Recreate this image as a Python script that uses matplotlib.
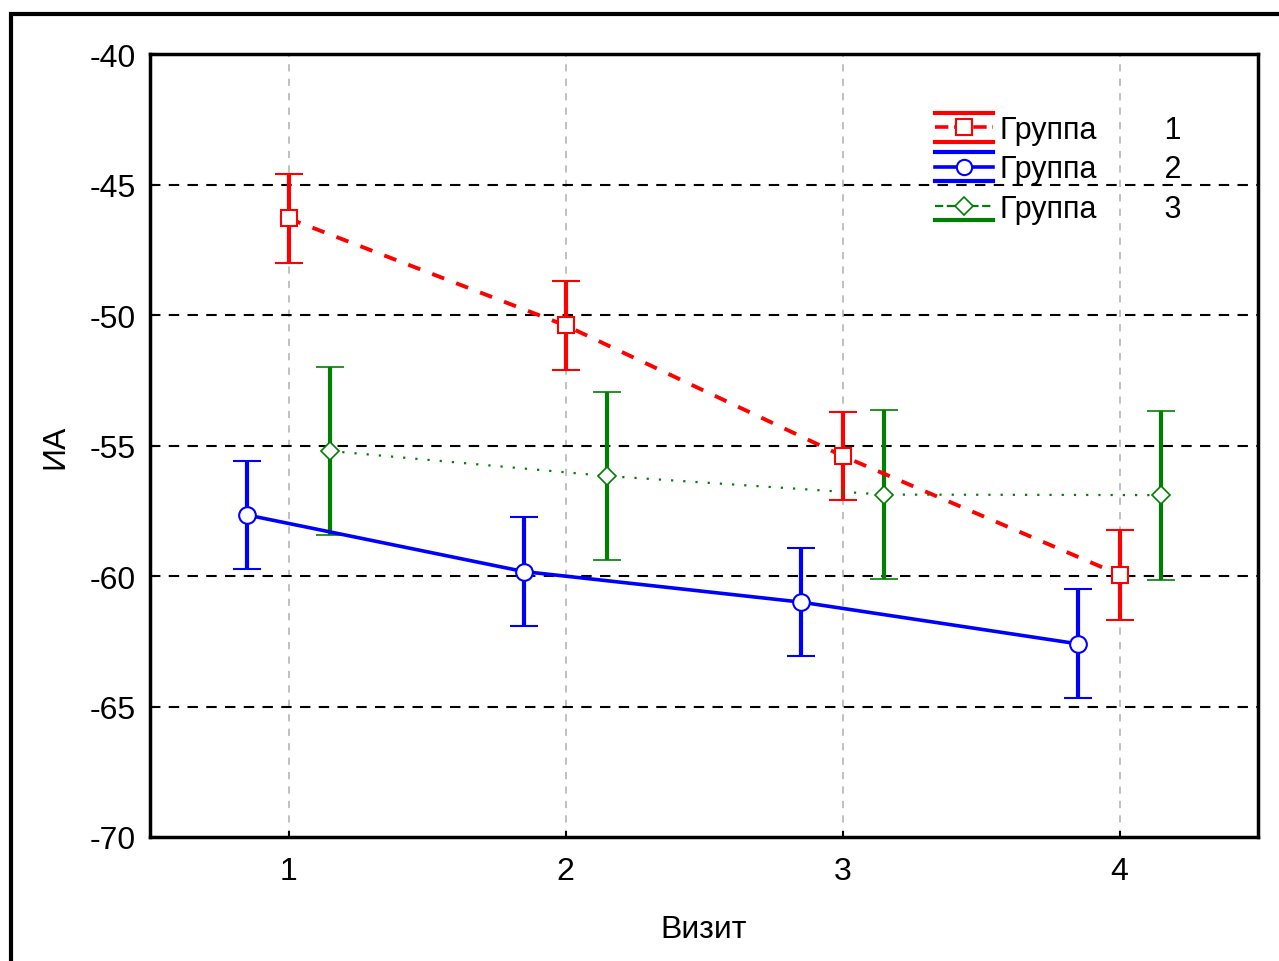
import matplotlib.pyplot as plt
from matplotlib.lines import Line2D
from matplotlib.legend_handler import HandlerBase
from matplotlib.patches import Rectangle

plt.rcParams['font.family'] = ['Liberation Sans', 'DejaVu Sans']
plt.rcParams['axes.unicode_minus'] = False

visits = [1, 2, 3, 4]
x_ticks = [1, 2, 3, 4]
y_ticks = [-70, -65, -60, -55, -50, -45, -40]

g1_mean = [-46.3, -50.4, -55.4, -59.95]
g1_err = [1.7, 1.72, 1.7, 1.72]
g2_mean = [-57.66, -59.83, -61.0, -62.6]
g2_err = [2.07, 2.09, 2.07, 2.09]
g3_mean = [-55.21, -56.17, -56.88, -56.9]
g3_err = [3.22, 3.22, 3.24, 3.24]

labels = ['Группа        1', 'Группа        2', 'Группа        3']


class CapHandler(HandlerBase):
    # legend sample: line + marker with error-bar caps above/below
    def __init__(self, caps):
        super().__init__()
        self.caps = caps

    def create_artists(self, legend, orig, xdescent, ydescent, width, height,
                       fontsize, trans):
        x0, x1 = -xdescent, width - xdescent
        ym = height / 2 - ydescent
        arts = []
        c = orig.get_color()
        main = Line2D([x0, x1], [ym, ym], color=c, ls=orig.get_linestyle(),
                      lw=orig.get_linewidth())
        mk = Line2D([(x0 + x1) / 2], [ym], marker=orig.get_marker(),
                    markersize=orig.get_markersize(), mfc='white', mec=c,
                    mew=orig.get_markeredgewidth(), ls='none')
        arts += [main, mk]
        for dy in self.caps:
            arts.append(Line2D([x0, x1], [ym + dy, ym + dy], color=c, lw=3))
        for a in arts:
            a.set_transform(trans)
        return arts


fig = plt.figure(figsize=(12.79, 9.62), dpi=100)
ax = fig.add_axes([0.1173, 0.1289, 0.8663, 0.8139])

fig.patches.append(Rectangle((11 / 1279, -0.1), 1.2, 1.1 - 15 / 962, fill=False,
                             lw=3, ec='black', transform=fig.transFigure))

x1 = [v for v in visits]
x2 = [v - 0.15 for v in visits]
x3 = [v + 0.15 for v in visits]

ax.errorbar(x1, g1_mean, yerr=g1_err, color='red', ls=(0, (3.3, 3.3)), lw=2.8,
            marker='s', markersize=12, mfc='white', mec='red', mew=1.5,
            elinewidth=3, capsize=10, capthick=3, zorder=5)
ax.errorbar(x2, g2_mean, yerr=g2_err, color='blue', ls='-', lw=2.6,
            marker='o', markersize=12, mfc='white', mec='blue', mew=1.5,
            elinewidth=3, capsize=10, capthick=3, zorder=5)
ax.errorbar(x3, g3_mean, yerr=g3_err, color='green', ls=(0, (1, 4.5)), lw=1.6,
            marker='D', markersize=9, mfc='white', mec='green', mew=1.2,
            elinewidth=3, capsize=10, capthick=3, zorder=5)

ax.set_xlim(0.5, 4.5)
ax.set_ylim(-70, -40)
ax.set_xticks(x_ticks)
ax.set_yticks(y_ticks)
ax.tick_params(direction='in', length=4, width=1.5, labelsize=23)
ax.tick_params(axis='x', pad=14)
ax.tick_params(axis='y', pad=10)
for s in ax.spines.values():
    s.set_linewidth(2.5)

for v in x_ticks:
    ax.axvline(v, color='#bbbbbb', ls=(0, (4, 4)), lw=1.3, zorder=1)
for v in y_ticks[1:-1]:
    ax.axhline(v, color='black', ls=(0, (5, 4)), lw=1.5, zorder=1)

ax.set_xlabel('Визит', fontsize=23, labelpad=20)
ax.set_ylabel('ИА', fontsize=23, labelpad=14)

h1 = Line2D([], [], color='red', ls=(0, (3, 2)), lw=2.6, marker='s',
            markersize=11, mew=1.5)
h2 = Line2D([], [], color='blue', ls='-', lw=2.6, marker='o',
            markersize=11, mew=1.5)
h3 = Line2D([], [], color='green', ls=(0, (1, 4.5)), lw=1.6, marker='D',
            markersize=9, mew=1.2)
leg = ax.legend([h1, h2, h3], labels, loc='upper left',
                bbox_to_anchor=(0.684, 0.957), frameon=False, fontsize=22,
                handlelength=1.9, handletextpad=0.2, labelspacing=0.3,
                handler_map={h1: CapHandler([10.5, -10.5]),
                             h2: CapHandler([10.5, -10.5]),
                             h3: CapHandler([-10.5])})

fig.savefig('out.png', dpi=100)
